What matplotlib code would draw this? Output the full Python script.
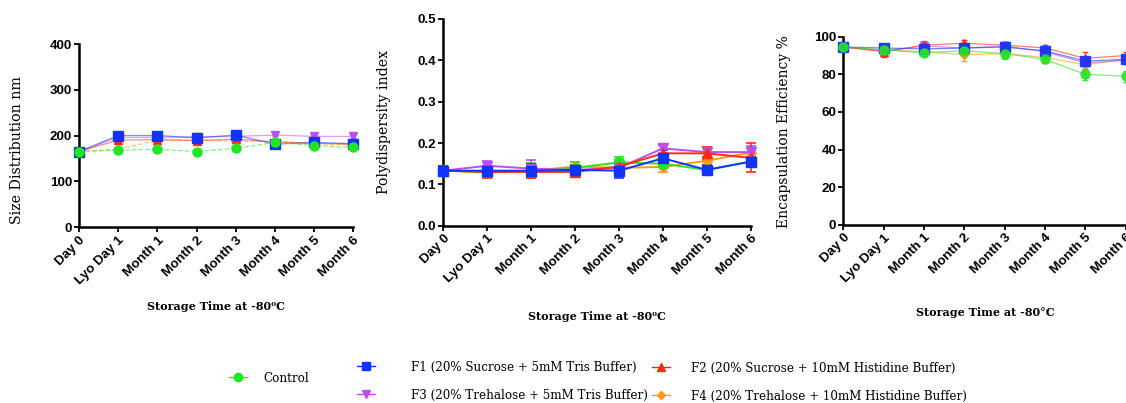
import matplotlib
matplotlib.use('Agg')
import matplotlib.pyplot as plt
from matplotlib.lines import Line2D
import numpy as np

W, H = 1126, 403

categories = ['Day 0', 'Lyo Day 1', 'Month 1', 'Month 2', 'Month 3', 'Month 4', 'Month 5', 'Month 6']

# size distribution (nm)
size_control = [165, 168, 170, 165, 172, 185, 178, 174]
size_f1 = [165, 200, 200, 195, 201, 181, 185, 182]
size_f2 = [165, 190, 191, 189, 192, 186, 183, 181]
size_f3 = [165, 196, 196, 197, 198, 201, 198, 198]
size_f4 = [165, 170, 190, 190, 187, 187, 182, 180]
size_err = [3, 3, 3, 3, 3, 3, 3, 3]

# polydispersity index
pdi_control = [0.133, 0.130, 0.133, 0.140, 0.153, 0.150, 0.135, 0.155]
pdi_f1 = [0.133, 0.133, 0.133, 0.135, 0.133, 0.163, 0.135, 0.155]
pdi_f2 = [0.133, 0.130, 0.130, 0.130, 0.143, 0.175, 0.175, 0.164]
pdi_f3 = [0.133, 0.145, 0.138, 0.135, 0.140, 0.187, 0.178, 0.178]
pdi_f4 = [0.133, 0.130, 0.133, 0.143, 0.140, 0.142, 0.157, 0.177]
pdi_control_err = [0.012, 0.010, 0.018, 0.013, 0.012, 0.008, 0.012, 0.010]
pdi_f1_err = [0.012, 0.012, 0.015, 0.012, 0.018, 0.020, 0.012, 0.012]
pdi_f2_err = [0.012, 0.015, 0.015, 0.012, 0.015, 0.020, 0.015, 0.035]
pdi_f3_err = [0.012, 0.012, 0.020, 0.010, 0.010, 0.010, 0.013, 0.015]
pdi_f4_err = [0.012, 0.010, 0.010, 0.012, 0.010, 0.012, 0.010, 0.010]

# encapsulation efficiency (%)
ee_control = [94.5, 93.0, 91.5, 92.5, 91.0, 88.0, 80.0, 79.0]
ee_f1 = [94.5, 94.0, 93.5, 94.0, 94.5, 92.5, 87.0, 88.0]
ee_f2 = [94.5, 92.0, 95.5, 96.5, 95.5, 94.0, 88.5, 90.0]
ee_f3 = [94.5, 92.5, 95.0, 94.0, 95.0, 92.0, 86.0, 87.5]
ee_f4 = [94.5, 93.0, 92.0, 90.5, 91.0, 89.0, 85.0, 88.0]
ee_control_err = [1.5, 1.5, 2.0, 2.0, 3.0, 2.0, 3.0, 3.0]
ee_f1_err = [1.5, 2.0, 2.0, 2.0, 2.0, 1.5, 2.0, 2.0]
ee_f2_err = [1.5, 3.0, 2.0, 1.5, 1.5, 1.5, 3.5, 2.0]
ee_f3_err = [1.5, 2.5, 2.0, 2.0, 2.0, 1.5, 2.0, 2.0]
ee_f4_err = [1.5, 2.0, 2.0, 3.5, 2.0, 2.0, 2.0, 2.0]

series_names = ['Control',
                'F1 (20% Sucrose + 5mM Tris Buffer)',
                'F2 (20% Sucrose + 10mM Histidine Buffer)',
                'F3 (20% Trehalose + 5mM Tris Buffer)',
                'F4 (20% Trehalose + 10mM Histidine Buffer)']
colors = ['#22E622', '#1133FF', '#FF2A10', '#BB4FEE', '#FF9A14']
markers = ['o', 's', '^', 'v', 'D']
msizes = [6.5, 6.5, 6, 6, 4.5]

x = np.arange(len(categories))


def px(xp, yp):
    return xp / W, 1 - yp / H


def style_axes(ax, ylim, yticks, yfmt):
    ax.set_xlim(0, len(categories) - 1)
    ax.set_ylim(*ylim)
    ax.set_yticks(yticks)
    ax.set_yticklabels([yfmt.format(v) for v in yticks])
    ax.set_xticks(x)
    ax.set_xticklabels(categories, rotation=45, ha='right', rotation_mode='anchor')
    for lab in ax.get_xticklabels() + ax.get_yticklabels():
        lab.set_fontfamily('Liberation Sans')
        lab.set_fontweight('bold')
        lab.set_fontsize(9.6)
    for s in ['top', 'right']:
        ax.spines[s].set_visible(False)
    for s in ['left', 'bottom']:
        ax.spines[s].set_linewidth(1.8)
    ax.tick_params(direction='out', length=3.5, width=1.3, pad=1.5)


fig = plt.figure(figsize=(W / 100, H / 100), dpi=100)
fig.patch.set_facecolor('white')

ax1 = fig.add_axes([0.0702, 0.4367, 0.2436, 0.4541])
ax2 = fig.add_axes([0.3937, 0.4400, 0.2730, 0.5129])
ax3 = fig.add_axes([0.7489, 0.4424, 0.2508, 0.4665])

# panel 1 - size
size_data = [size_control, size_f1, size_f2, size_f3, size_f4]
size_ls = ['--', '-', '-', '-', '--']
for i in [4, 3, 2, 1, 0]:
    ax1.plot(x, size_data[i], color=colors[i], lw=0.9, ls=size_ls[i], alpha=0.55,
             clip_on=False, zorder=2)
    ax1.errorbar(x, size_data[i], yerr=size_err, fmt=markers[i], color=colors[i],
                 ms=msizes[i], elinewidth=0.8, capsize=2, clip_on=False, zorder=3 + (i == 0))

# panel 2 - PDI
pdi_data = [pdi_control, pdi_f1, pdi_f2, pdi_f3, pdi_f4]
pdi_errs = [pdi_control_err, pdi_f1_err, pdi_f2_err, pdi_f3_err, pdi_f4_err]
for i in [4, 0, 3, 2, 1]:
    ax2.errorbar(x, pdi_data[i], yerr=pdi_errs[i], fmt='-' + markers[i], color=colors[i],
                 lw=1.4, ms=msizes[i] + 0.8, elinewidth=1.2, capsize=3.5, capthick=1.2,
                 clip_on=False, zorder=3)

# panel 3 - encapsulation efficiency
ee_data = [ee_control, ee_f1, ee_f2, ee_f3, ee_f4]
ee_errs = [ee_control_err, ee_f1_err, ee_f2_err, ee_f3_err, ee_f4_err]
for i in [4, 3, 2, 1, 0]:
    ax3.plot(x, ee_data[i], color=colors[i], lw=0.9, alpha=0.6, clip_on=False, zorder=2)
    ax3.errorbar(x, ee_data[i], yerr=ee_errs[i], fmt=markers[i], color=colors[i],
                 ms=msizes[i], elinewidth=0.8, capsize=2.5, alpha=0.9, ecolor=colors[i],
                 clip_on=False, zorder=3)

style_axes(ax1, (0, 400), [0, 100, 200, 300, 400], '{:.0f}')
style_axes(ax2, (0, 0.5), [0.0, 0.1, 0.2, 0.3, 0.4, 0.5], '{:.1f}')
style_axes(ax3, (0, 100), [0, 20, 40, 60, 80, 100], '{:.0f}')

# axis titles
serif = 'DejaVu Serif'
fig.text(*px(17, 150), 'Size Distribution nm', rotation=90, ha='center', va='center',
         family=serif, fontsize=10.2)
fig.text(*px(384, 122), 'Polydispersity index', rotation=90, ha='center', va='center',
         family=serif, fontsize=10.2)
fig.text(*px(784, 132), 'Encapsulation Efficiency %', rotation=90, ha='center', va='center',
         family=serif, fontsize=10.0)
fig.text(*px(216, 307), 'Storage Time at -80\u2070C', ha='center', va='center',
         family=serif, fontsize=8.0, fontweight='semibold')
fig.text(*px(597, 316), 'Storage Time at -80\u2070C', ha='center', va='center',
         family=serif, fontsize=8.0, fontweight='semibold')
fig.text(*px(985, 313), 'Storage Time at -80\u00b0C', ha='center', va='center',
         family=serif, fontsize=8.0, fontweight='semibold')

# legend, one entry at a time
legend_pos = [(229, 378, 1.4), (357, 367, 3.0), (652, 368, 1.8), (357, 395, 3.0), (652, 396, 1.8)]
for i, (lx, ly, gap) in enumerate(legend_pos):
    h = Line2D([], [], color=colors[i], marker=markers[i], ms=msizes[i] - 0.5, lw=1.0)
    fig.legend([h], [series_names[i]], loc='center left', bbox_to_anchor=px(lx, ly),
               frameon=False, handlelength=1.5, handletextpad=gap, borderpad=0,
               borderaxespad=0, prop={'family': serif, 'size': 8.6})

fig.savefig('out.png', dpi=100, facecolor='white')
plt.close(fig)
